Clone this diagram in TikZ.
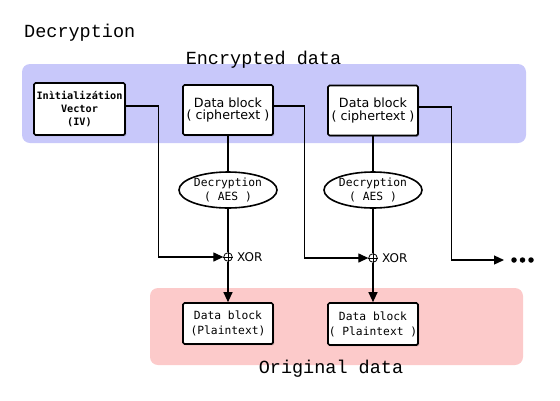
\documentclass[tikz,border=0pt]{standalone}
\usepackage{fontspec}
\setmainfont{DejaVu Sans}
\newfontfamily\monof{Liberation Mono}
\newfontfamily\smono{DejaVu Sans Mono}
\newfontfamily\sansf{DejaVu Sans}
\usetikzlibrary{shapes.geometric,arrows.meta,shadows}
\definecolor{bandblue}{RGB}{200,200,250}
\definecolor{bandpink}{RGB}{252,202,202}
\begin{document}
\begin{tikzpicture}[x=1pt,y=-1pt,
  blk/.style={draw, line width=1.7pt, fill=white, rounded corners=1.5pt, inner sep=0pt, align=center,
    minimum width=90pt, drop shadow={shadow xshift=1.2pt,shadow yshift=-1.2pt,opacity=0.3,fill=black}},
  dec/.style={ellipse, draw, line width=1.6pt, fill=white, minimum width=98pt, minimum height=36pt,
    inner sep=0pt, align=center, font=\smono\fontsize{11.3}{13.3}\selectfont},
  xorc/.style={circle, draw, line width=0.8pt, fill=white, minimum size=8.5pt, inner sep=0pt},
  conn/.style={line width=1.2pt},
  arr/.style={conn, -{Triangle[length=10pt,width=9pt]}},
  big/.style={font=\monof\fontsize{18.5}{20}\selectfont, inner sep=0pt},
  xlab/.style={font=\sansf\fontsize{12}{14}\selectfont, anchor=west, inner sep=0pt},
  dotn/.style={circle, fill=black, minimum size=5.5pt, inner sep=0pt},
]
\useasboundingbox (0,0) rectangle (560,400);
\fill[bandblue, rounded corners=8pt] (22,64) rectangle (526,143);
\fill[bandpink, rounded corners=8pt] (150,288) rectangle (523,365);

\node[big, anchor=base west] (title) at (24,37.7) {Decryption};
\node[big, anchor=base] (enc) at (263.5,64) {Encrypted data};
\node[big, anchor=base] (orig) at (331,373) {Original data};

\node[blk, minimum width=91pt, minimum height=52pt, font=\smono\bfseries\fontsize{10.2}{13}\selectfont] (iv) at (79.5,109) {Inìtializátion\\Vector\\(IV)};
\node[blk, minimum height=50pt, font=\sansf\fontsize{12.7}{12.5}\selectfont] (c1) at (228,110) {Data block\\( ciphertext )};
\node[blk, minimum height=50pt, font=\sansf\fontsize{12.7}{12.5}\selectfont] (c2) at (373,110.5) {Data block\\( ciphertext )};

\node[dec] (e1) at (228,190) {Decryption\\( AES )};
\node[dec] (e2) at (373,190) {Decryption\\( AES )};

\node[xorc] (x1) at (228,257) {};
\node[xorc] (x2) at (373,258) {};
\node[xlab] (xl1) at (237,257) {XOR};
\node[xlab] (xl2) at (382,258) {XOR};

\node[blk, minimum height=41pt, font=\smono\fontsize{11.3}{15}\selectfont] (p1) at (228,323.5) {Data block\\(Plaintext)};
\node[blk, minimum height=42pt, font=\smono\fontsize{11.3}{15}\selectfont] (p2) at (373,324) {Data block\\( Plaintext )};

\node[dotn] (d1) at (514,260) {};
\node[dotn] (d2) at (522.5,260) {};
\node[dotn] (d3) at (531,260) {};
\coordinate (more) at (504,260);

% XOR crosses
\draw[line width=0.8pt] (x1.north) -- (x1.south) (x1.west) -- (x1.east);
\draw[line width=0.8pt] (x2.north) -- (x2.south) (x2.west) -- (x2.east);

% vertical flow
\draw[conn] (c1) -- (e1);
\draw[conn] (e1) -- (x1);
\draw[arr] (x1) -- (p1);
\draw[conn] (c2) -- (e2);
\draw[conn] (e2) -- (x2);
\draw[arr] (x2) -- (p2);

% chaining
\draw[arr] ([yshift=3pt]iv.east) -- ++(33,0) |- (x1.west);
\draw[arr] ([yshift=4pt]c1.east) -- ++(31,0) |- (x2.west);
\draw[arr] ([yshift=3.5pt]c2.east) -- ++(33,0) |- (more);
\end{tikzpicture}
\end{document}
